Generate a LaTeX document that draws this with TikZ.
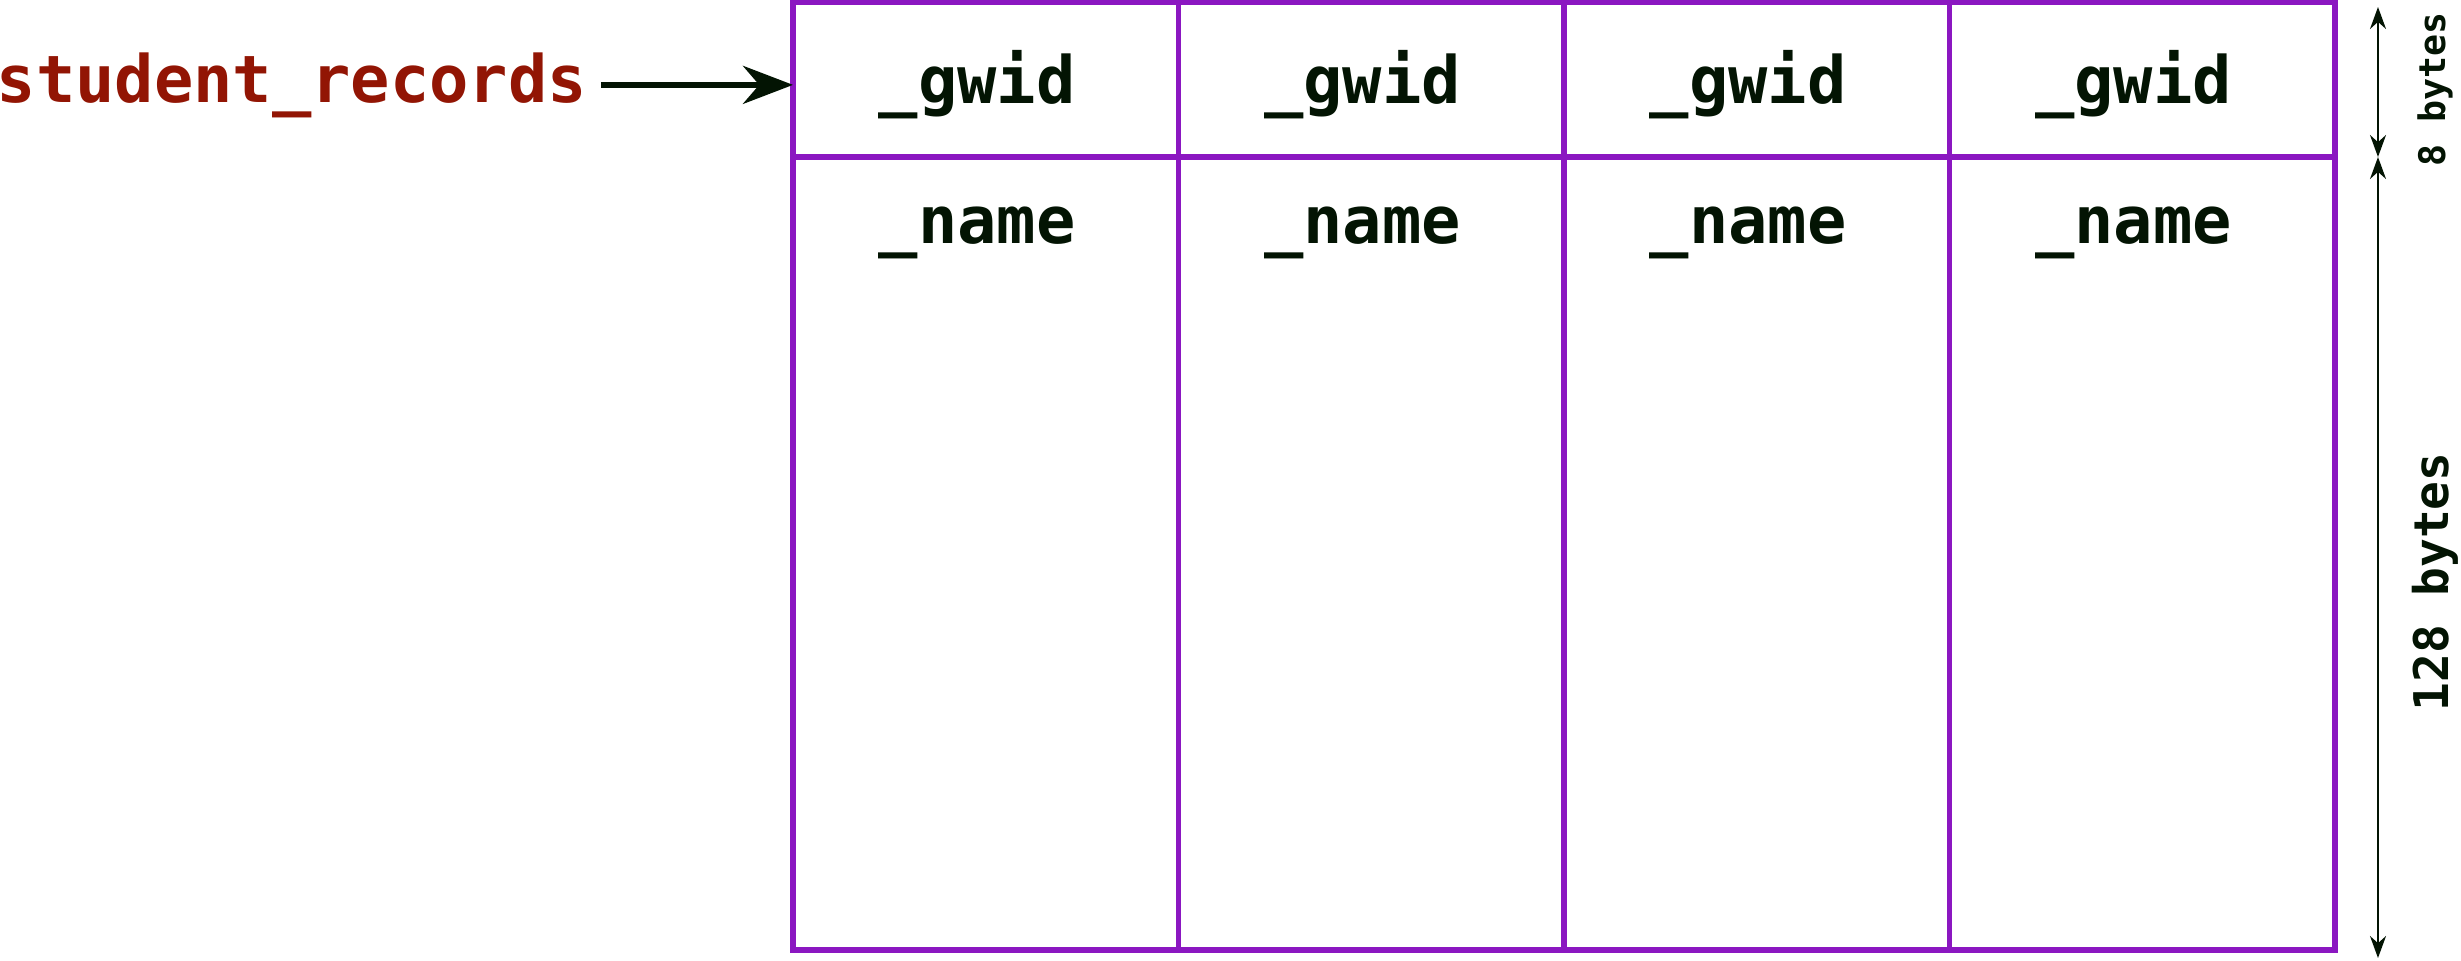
\documentclass[tikz,border=0pt]{standalone}
\usepackage{fontspec}
\setmonofont{DejaVu Sans Mono}
\usepackage{tikz}
\usetikzlibrary{arrows.meta,
                chains,
                positioning,
                calc}
\definecolor{recpurple}{HTML}{8B17C1}
\definecolor{ptrred}{HTML}{921504}
\definecolor{inkdark}{HTML}{031403}
\tikzset{
       arr/.style = {-{Stealth[length=5mm, width=3.8mm]}, line width=1.7pt, draw=inkdark},   % <--- pointer arrow
       dim/.style = {{Stealth[length=2.2mm, width=1.6mm]}-{Stealth[length=2.2mm, width=1.6mm]},
                     line width=0.65pt, draw=inkdark},
      cell/.style = {draw=recpurple, line width=1.45pt, % <---
                     outer sep=0pt, inner sep=0pt, minimum width=3.855cm},
  headcell/.style = {cell, minimum height=1.55cm},
  bodycell/.style = {cell, minimum height=7.93cm},
     field/.style = {font=\ttfamily\bfseries\fontsize{18.6}{22}\selectfont,
                     text=inkdark, inner sep=0pt, anchor=base west},
   pointer/.style = {field, text=ptrred},
   sizelbl/.style = {font=\ttfamily\bfseries\fontsize{#1}{#1}\selectfont,
                     text=inkdark, inner sep=0pt, rotate=90},
        }
\begin{document}
\begin{tikzpicture}[node distance=0pt, start chain]
  \useasboundingbox (0,0) rectangle (24.61,-9.61);

  \node[headcell,on chain,anchor=north west] (H1) at (7.93,-0.02) {};
  \node[headcell,on chain] (H2) {};
  \node[headcell,on chain] (H3) {};
  \node[headcell,on chain] (H4) {};
  \node[bodycell,below=of H1] (B1) {};
  \node[bodycell,below=of H2] (B2) {};
  \node[bodycell,below=of H3] (B3) {};
  \node[bodycell,below=of H4] (B4) {};

  \node[field] (G1) at ([shift={(0.85,-1.01)}]H1.north west) {\_gwid};
  \node[field] (G2) at ([shift={(0.85,-1.01)}]H2.north west) {\_gwid};
  \node[field] (G3) at ([shift={(0.85,-1.01)}]H3.north west) {\_gwid};
  \node[field] (G4) at ([shift={(0.85,-1.01)}]H4.north west) {\_gwid};
  \node[field] (N1) at ([shift={(0.85,-2.41)}]H1.north west) {\_name};
  \node[field] (N2) at ([shift={(0.85,-2.41)}]H2.north west) {\_name};
  \node[field] (N3) at ([shift={(0.85,-2.41)}]H3.north west) {\_name};
  \node[field] (N4) at ([shift={(0.85,-2.41)}]H4.north west) {\_name};

  \node[pointer] (rec) at (-0.04,-1.02) {student\_records};
  \draw[arr] ([xshift=1.3mm]rec.east) -- (rec.east -| H1.west);

  \coordinate (D0) at ([shift={(0.43,-0.05)}]H4.north east);
  \coordinate (D1) at ([xshift=0.43cm]H4.south east);
  \coordinate (D2) at ([shift={(0.43,-0.08)}]B4.south east);
  \draw[dim] (D0) -- (D1);
  \draw[dim] (D1) -- (D2);
  \node[sizelbl=10.4] (S8) at ($(D0)!0.5!(D1)+(0.57,-0.07)$) {8 bytes};
  \node[sizelbl=13.6] (S128) at ($(D1)!0.5!(D2)+(0.57,-0.245)$) {128 bytes};
\end{tikzpicture}
\end{document}
